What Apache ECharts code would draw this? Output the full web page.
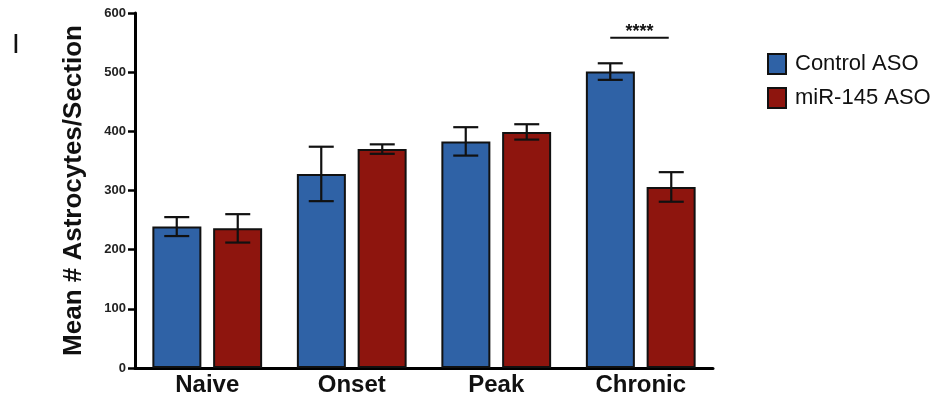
<!DOCTYPE html>
<html><head><meta charset="utf-8">
<script src="https://cdn.jsdelivr.net/npm/echarts@6/dist/echarts.min.js"></script>
<style>html,body{margin:0;padding:0;background:#fff}#c{width:934px;height:404px}</style>
</head><body><div id="c"></div>
<script>
var categories = ['Naive', 'Onset', 'Peak', 'Chronic'];
var controlMean = [239, 328, 383, 501];
var controlErr = [16, 46, 24, 14];
var mirMean = [236, 370, 399, 306];
var mirErr = [24, 8, 13, 25];
var yTicks = [0, 100, 200, 300, 400, 500, 600];
var sigCategory = 'Chronic';
var sigValue = 558;
var sigLabel = '****';

var BAR_W = 49, OFFSET = 30.5;
function errSeries(name, means, errs, dir) {
  return {
    type: 'custom', name: name + ' err', silent: true, z: 5,
    data: categories.map(function (c, i) { return [i, means[i], errs[i]]; }),
    renderItem: function (params, api) {
      var i = api.value(0), m = api.value(1), e = api.value(2);
      var top = api.coord([i, m + e]), bot = api.coord([i, m - e]);
      var x = top[0] + dir * OFFSET, half = 12.5;
      var st = { stroke: '#111', lineWidth: 2.2 };
      return { type: 'group', children: [
        { type: 'line', shape: { x1: x, y1: top[1], x2: x, y2: bot[1] }, style: st },
        { type: 'line', shape: { x1: x - half, y1: top[1], x2: x + half, y2: top[1] }, style: st },
        { type: 'line', shape: { x1: x - half, y1: bot[1], x2: x + half, y2: bot[1] }, style: st }
      ]};
    }
  };
}

var chart = echarts.init(document.getElementById('c'));
chart.setOption({
  animation: false,
  graphic: [{ type: 'text', left: 12, top: 31, style: { text: 'I', font: '28px Arial', fill: '#111' } }],
  grid: { left: 135, right: 221, top: 13, bottom: 36 },
  legend: {
    left: 762, top: 48, orient: 'vertical', itemWidth: 18, itemHeight: 20, itemGap: 12, icon: 'rect',
    data: ['Control ASO', 'miR-145 ASO'],
    itemStyle: { borderColor: '#111', borderWidth: 2 },
    textStyle: { fontFamily: 'Arial', fontSize: 22, color: '#111', padding: [0, 0, 0, 4] }
  },
  xAxis: {
    type: 'category', data: categories,
    axisLine: { lineStyle: { color: '#000', width: 3 } },
    axisTick: { show: false },
    axisLabel: { fontFamily: 'Arial', fontWeight: 'bold', fontSize: 24, color: '#111', margin: 5 }
  },
  yAxis: {
    type: 'value', min: yTicks[0], max: yTicks[yTicks.length - 1], interval: 100,
    name: 'Mean # Astrocytes/Section', nameLocation: 'middle', nameRotate: 90, nameGap: 48,
    nameTextStyle: { fontFamily: 'Arial', fontWeight: 'bold', fontSize: 26, color: '#111' },
    axisLine: { show: true, lineStyle: { color: '#000', width: 3 } },
    axisTick: { show: true, length: 7, lineStyle: { color: '#000', width: 2.5 } },
    axisLabel: { fontFamily: 'Arial', fontWeight: 'bold', fontSize: 13, color: '#222', margin: 9 },
    splitLine: { show: false }
  },
  series: [
    { type: 'bar', name: 'Control ASO', data: controlMean, barWidth: BAR_W, barGap: '24%',
      itemStyle: { color: '#2F62A6', borderColor: '#111', borderWidth: 2 } },
    { type: 'bar', name: 'miR-145 ASO', data: mirMean, barWidth: BAR_W,
      itemStyle: { color: '#8E150E', borderColor: '#111', borderWidth: 2 } },
    errSeries('Control ASO', controlMean, controlErr, -1),
    errSeries('miR-145 ASO', mirMean, mirErr, 1),
    { type: 'custom', name: 'sig', silent: true, z: 6,
      data: [[categories.indexOf(sigCategory), sigValue]],
      renderItem: function (params, api) {
        var p = api.coord([api.value(0), api.value(1)]);
        var x1 = p[0] - OFFSET, x2 = p[0] + 28;
        return { type: 'group', children: [
          { type: 'line', shape: { x1: x1, y1: p[1], x2: x2, y2: p[1] }, style: { stroke: '#111', lineWidth: 2 } },
          { type: 'text', x: (x1 + x2) / 2, y: p[1] + 3, style: { text: sigLabel, font: 'bold 18px Arial', fill: '#111', align: 'center', verticalAlign: 'bottom' } }
        ]};
      }
    }
  ]
});
</script></body></html>
